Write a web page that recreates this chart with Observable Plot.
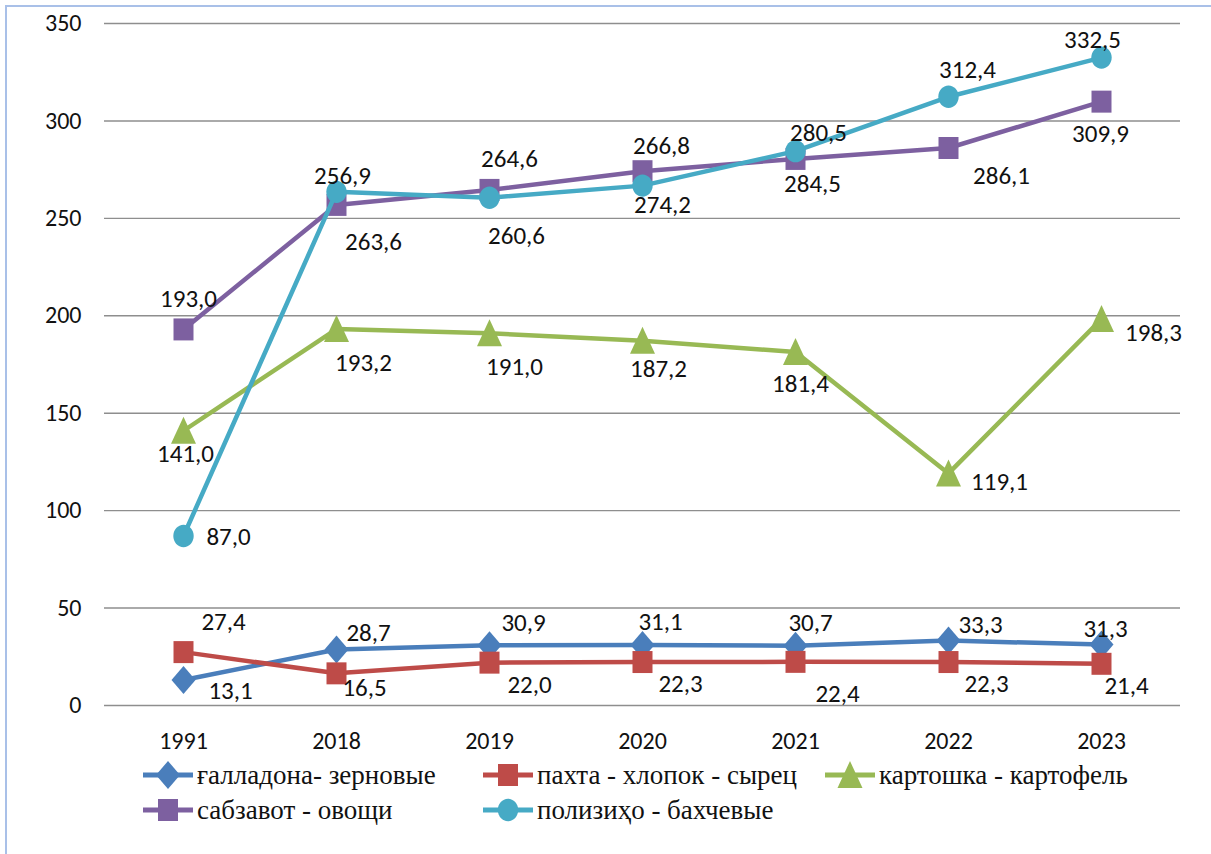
<!DOCTYPE html>
<html>
<head>
<meta charset="utf-8">
<script src="https://cdn.jsdelivr.net/npm/d3@7"></script>
<script src="https://cdn.jsdelivr.net/npm/@observablehq/plot@0.6"></script>
<style>
html, body { margin: 0; padding: 0; background: #fff; width: 1211px; height: 854px; overflow: hidden; }
#wrap { position: relative; width: 1211px; height: 854px; background: #fff; }
#frame { position: absolute; left: 5px; top: 5px; width: 1300px; height: 1000px; border: 2px solid #a9c0e8; box-sizing: border-box; }
#chart { position: absolute; left: 0; top: 0; }
#legend { position: absolute; left: 0; top: 0; width: 1211px; height: 854px; pointer-events: none; }
.lg-item { position: absolute; display: flex; align-items: center; height: 30px; white-space: nowrap; }
.lg-item svg { display: block; flex: none; }
.lg-item span { font-family: "Liberation Serif", "Times New Roman", serif; font-size: 27px; color: #111; margin-left: 4px; line-height: 30px; }
</style>
</head>
<body>
<div id="wrap">
  <div id="frame"></div>
  <div id="chart"></div>
  <div id="legend"></div>
</div>
<script>
// ---- data ----
const years = ["1991", "2018", "2019", "2020", "2021", "2022", "2023"];
const grain = [13.1, 28.7, 30.9, 31.1, 30.7, 33.3, 31.3];
const cotton = [27.4, 16.5, 22.0, 22.3, 22.4, 22.3, 21.4];
const potato = [141.0, 193.2, 191.0, 187.2, 181.4, 119.1, 198.3];
const vegetables = [193.0, 256.9, 264.6, 274.2, 280.5, 286.1, 309.9];
const melons = [87.0, 263.6, 260.6, 266.8, 284.5, 312.4, 332.5];
const seriesNames = ["ғалладона- зерновые", "пахта - хлопок - сырец", "картошка - картофель", "сабзавот - овощи", "полизиҳо - бахчевые"];
const yTicks = [0, 50, 100, 150, 200, 250, 300, 350];

// ---- styling / label placement ----
const colors = ["#4a7ebb", "#be4b48", "#98b954", "#7d60a0", "#46aac5"];
// label offsets (dx, dy) relative to each point, per series
const labelOffsets = [
  [[47, 11], [32, -17], [34, -22], [18, -23], [15, -23], [32, -16], [4, -16]],
  [[40, -30], [28, 15], [40, 22], [38, 22], [42, 32], [38, 22], [25, 22]],
  [[2, 23], [27, 34], [25, 34], [16, 28], [5, 32], [51, 9], [52, 14]],
  [[5, -30], [6, -29], [20, -31], [20, 34], [23, -26], [53, 28], [-1, 32]],
  [[45, 1], [37, 50], [27, 38], [19, -40], [17, 33], [19, -27], [-9, -18]]
];

// custom marker symbols (scaled from Plot's r)
function unit(size) { return Math.sqrt(size / Math.PI) / 10; }
const symDiamond = { draw(c, size) { const k = unit(size);
  c.moveTo(0, -14 * k); c.lineTo(12 * k, 0); c.lineTo(0, 14 * k); c.lineTo(-12 * k, 0); c.closePath(); } };
const symSquare = { draw(c, size) { const k = unit(size);
  c.moveTo(-10 * k, -11 * k); c.lineTo(10 * k, -11 * k); c.lineTo(10 * k, 11 * k); c.lineTo(-10 * k, 11 * k); c.closePath(); } };
const symTriangle = { draw(c, size) { const k = unit(size);
  c.moveTo(0, -14 * k); c.lineTo(12.5 * k, 13 * k); c.lineTo(-12.5 * k, 13 * k); c.closePath(); } };
const symEllipse = { draw(c, size) { const k = unit(size); const rx = 10.2 * k, ry = 11.2 * k, m = 0.5523;
  c.moveTo(rx, 0);
  c.bezierCurveTo(rx, ry * m, rx * m, ry, 0, ry);
  c.bezierCurveTo(-rx * m, ry, -rx, ry * m, -rx, 0);
  c.bezierCurveTo(-rx, -ry * m, -rx * m, -ry, 0, -ry);
  c.bezierCurveTo(rx * m, -ry, rx, -ry * m, rx, 0);
  c.closePath(); } };
const symbols = [symDiamond, symSquare, symTriangle, symSquare, symEllipse];

const allValues = [grain, cotton, potato, vegetables, melons];
const series = allValues.map((vals, i) => ({
  name: seriesNames[i],
  color: colors[i],
  symbol: symbols[i],
  rows: years.map((y, j) => ({ year: y, value: vals[j], series: seriesNames[i] }))
}));

const fmt = v => v.toFixed(1).replace(".", ",");
const labelFont = "Carlito, Lato, 'Liberation Sans', sans-serif";

const marks = [
  Plot.ruleY(yTicks, { stroke: "#8e8e8e", strokeWidth: 1.4 }),
  Plot.axisY({ ticks: yTicks, tickSize: 0, tickPadding: 23, fontSize: 24, tickFormat: d => String(d), label: null }),
  Plot.axisX({ tickSize: 0, tickPadding: 26, fontSize: 24, label: null })
];

series.forEach((s, i) => {
  marks.push(Plot.line(s.rows, { x: "year", y: "value", stroke: s.color, strokeWidth: 4.5, curve: "linear" }));
  marks.push(Plot.dot(s.rows, { x: "year", y: "value", fill: s.color, symbol: s.symbol, r: 10, stroke: "none" }));
});

series.forEach((s, i) => {
  s.rows.forEach((row, j) => {
    const [dx, dy] = labelOffsets[i][j];
    marks.push(Plot.text([row], {
      x: "year", y: "value", text: d => fmt(d.value),
      dx, dy, fontSize: 25, fill: "#111", fontFamily: labelFont
    }));
  });
});

const chart = Plot.plot({
  width: 1211,
  height: 760,
  marginTop: 23,
  marginBottom: 55,
  marginLeft: 104,
  marginRight: 31,
  style: { fontFamily: labelFont, color: "#111", background: "transparent", overflow: "visible" },
  x: { type: "point", domain: years, padding: 0.5 },
  y: { domain: [0, 350] },
  marks
});
document.getElementById("chart").appendChild(chart);

// ---- legend (HTML items with small svg keys) ----
const legend = d3.select("#legend");
const legendItems = [
  { i: 0, x: 143, y: 775 },
  { i: 1, x: 483, y: 775 },
  { i: 2, x: 825, y: 775 },
  { i: 3, x: 143, y: 810 },
  { i: 4, x: 483, y: 810 }
];
legendItems.forEach(({ i, x, y }) => {
  const s = series[i];
  const item = legend.append("div").attr("class", "lg-item")
    .style("left", x + "px").style("top", (y - 15) + "px");
  const key = item.append("svg").attr("width", 50).attr("height", 30);
  key.append("line").attr("x1", 0).attr("x2", 50).attr("y1", 15).attr("y2", 15)
    .attr("stroke", s.color).attr("stroke-width", 5);
  key.append("path").attr("transform", "translate(25,15)")
    .attr("d", d3.symbol(s.symbol, Math.PI * 100)())
    .attr("fill", s.color);
  item.append("span").style("font-family", "'Liberation Serif', serif").text(s.name);
});
</script>
</body>
</html>
